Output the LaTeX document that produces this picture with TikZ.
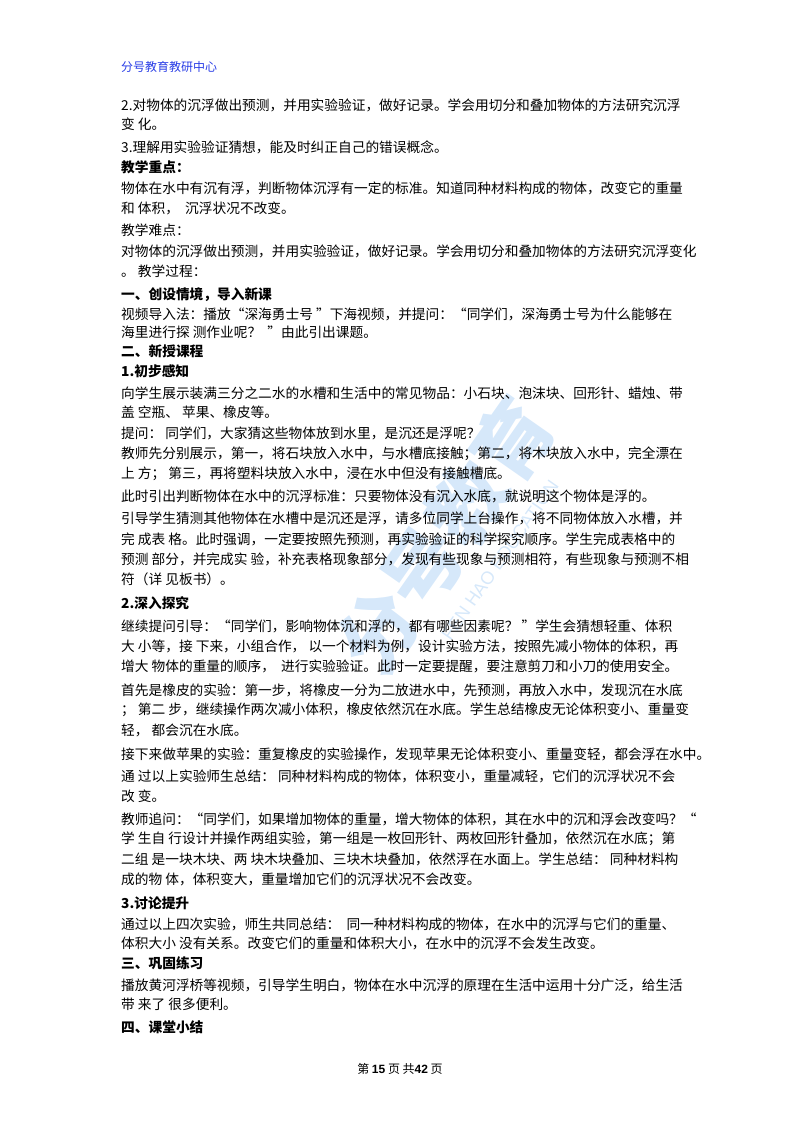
\documentclass[tikz,border=0pt]{standalone}
\usepackage{fontspec}
\setmainfont{Noto Sans CJK SC}
\newfontfamily\latin{Liberation Sans}
\definecolor{hdr}{RGB}{40,60,230}
\definecolor{wm}{RGB}{214,232,250}
\begin{document}
\begin{tikzpicture}[x=1pt,y=1pt,
  ln/.style={anchor=west,inner sep=0pt,font=\fontsize{13.7}{16}\selectfont},
  hd/.style={ln,font=\fontsize{13.7}{16}\selectfont\bfseries}]
\useasboundingbox (0,0) rectangle (800,-1132);
% watermark
\node[rotate=55,text=wm,font=\fontsize{78}{78}\selectfont\bfseries,inner sep=0pt] (wm1) at (445,-535) {分号教育};
\node[rotate=55,text=wm,font=\fontsize{18}{18}\selectfont\latin,inner sep=0pt] (wm2) at (500,-560) {FEN HAO EDUCATION};
\node[ln,text=hdr,font=\fontsize{12}{14}\selectfont] (h) at (121,-67) {分号教育教研中心};
\node[ln] (l1) at (121,-105) {2.对物体的沉浮做出预测，并用实验验证，做好记录。学会用切分和叠加物体的方法研究沉浮};
\node[ln] (l2) at (121,-124) {变\ 化。};
\node[ln] (l3) at (121,-147) {3.理解用实验验证猜想，能及时纠正自己的错误概念。};
\node[hd] (l4) at (121,-167) {教学重点：};
\node[ln] (l5) at (121,-188) {物体在水中有沉有浮，判断物体沉浮有一定的标准。知道同种材料构成的物体，改变它的重量};
\node[ln] (l6) at (121,-208) {和\ 体积，\ \ 沉浮状况不改变。};
\node[ln] (l7) at (121,-230) {教学难点：};
\node[ln] (l8) at (121,-251) {对物体的沉浮做出预测，并用实验验证，做好记录。学会用切分和叠加物体的方法研究沉浮变化};
\node[ln] (l9) at (121,-271) {。\ 教学过程：};
\node[hd] (l10) at (121,-295) {一、创设情境，导入新课};
\node[ln] (l11) at (121,-314) {视频导入法：播放“深海勇士号\ ”下海视频，并提问：“同学们，深海勇士号为什么能够在};
\node[ln] (l12) at (121,-332) {海里进行探\ 测作业呢？\ \ ”由此引出课题。};
\node[hd] (l13) at (121,-351) {二、新授课程};
\node[hd] (l14) at (121,-371) {1.初步感知};
\node[ln] (l15) at (121,-393) {向学生展示装满三分之二水的水槽和生活中的常见物品：小石块、泡沫块、回形针、蜡烛、带};
\node[ln] (l16) at (121,-412) {盖\ 空瓶、\ 苹果、橡皮等。};
\node[ln] (l17) at (121,-433) {提问：\ 同学们，大家猜这些物体放到水里，是沉还是浮呢？};
\node[ln] (l18) at (121,-454) {教师先分别展示，第一，将石块放入水中，与水槽底接触；第二，将木块放入水中，完全漂在};
\node[ln] (l19) at (121,-474) {上\ 方；\ 第三，再将塑料块放入水中，浸在水中但没有接触槽底。};
\node[ln] (l20) at (121,-496) {此时引出判断物体在水中的沉浮标准：只要物体没有沉入水底，就说明这个物体是浮的。};
\node[ln] (l21) at (121,-518) {引导学生猜测其他物体在水槽中是沉还是浮，请多位同学上台操作，将不同物体放入水槽，并};
\node[ln] (l22) at (121,-539) {完\ 成表\ 格。此时强调，一定要按照先预测，再实验验证的科学探究顺序。学生完成表格中的};
\node[ln] (l23) at (121,-559) {预测\ 部分，并完成实\ 验，补充表格现象部分，发现有些现象与预测相符，有些现象与预测不相};
\node[ln] (l24) at (121,-579) {符（详\ 见板书）。};
\node[hd] (l25) at (121,-603) {2.深入探究};
\node[ln] (l26) at (121,-626) {继续提问引导：“同学们，影响物体沉和浮的，都有哪些因素呢？\ ”学生会猜想轻重、体积};
\node[ln] (l27) at (121,-646) {大\ 小等，接\ 下来，小组合作，\ 以一个材料为例，设计实验方法，按照先减小物体的体积，再};
\node[ln] (l28) at (121,-666) {增大\ 物体的重量的顺序，\ \ 进行实验验证。此时一定要提醒，要注意剪刀和小刀的使用安全。};
\node[ln] (l29) at (121,-690) {首先是橡皮的实验：第一步，将橡皮一分为二放进水中，先预测，再放入水中，发现沉在水底};
\node[ln] (l30) at (121,-710) {；\ 第二\ 步，继续操作两次减小体积，橡皮依然沉在水底。学生总结橡皮无论体积变小、重量变};
\node[ln] (l31) at (121,-730) {轻，\ 都会沉在水底。};
\node[ln] (l32) at (121,-754) {接下来做苹果的实验：重复橡皮的实验操作，发现苹果无论体积变小、重量变轻，都会浮在水中。};
\node[ln] (l33) at (121,-776) {通\ 过以上实验师生总结：\ 同种材料构成的物体，体积变小，重量减轻，它们的沉浮状况不会};
\node[ln] (l34) at (121,-796) {改\ 变。};
\node[ln] (l35) at (121,-819) {教师追问：“同学们，如果增加物体的重量，增大物体的体积，其在水中的沉和浮会改变吗？“};
\node[ln] (l36) at (121,-839) {学\ 生自\ 行设计并操作两组实验，第一组是一枚回形针、两枚回形针叠加，依然沉在水底；第};
\node[ln] (l37) at (121,-859) {二组\ 是一块木块、两\ 块木块叠加、三块木块叠加，依然浮在水面上。学生总结：\ 同种材料构};
\node[ln] (l38) at (121,-879) {成的物\ 体，体积变大，重量增加它们的沉浮状况不会改变。};
\node[hd] (l39) at (121,-903) {3.讨论提升};
\node[ln] (l40) at (121,-924) {通过以上四次实验，师生共同总结：\ \ 同一种材料构成的物体，在水中的沉浮与它们的重量、};
\node[ln] (l41) at (121,-943) {体积大小\ 没有关系。改变它们的重量和体积大小，在水中的沉浮不会发生改变。};
\node[hd] (l42) at (121,-963) {三、巩固练习};
\node[ln] (l43) at (121,-985) {播放黄河浮桥等视频，引导学生明白，物体在水中沉浮的原理在生活中运用十分广泛，给生活};
\node[ln] (l44) at (121,-1004) {带\ 来了\ 很多便利。};
\node[hd] (l45) at (121,-1027) {四、课堂小结};
\node[inner sep=0pt,font=\fontsize{12}{14}\selectfont] (ft) at (400,-1069) {第\ {\latin\bfseries 15}\ 页\ 共{\latin\bfseries 42}\ 页};
\end{tikzpicture}
\end{document}
